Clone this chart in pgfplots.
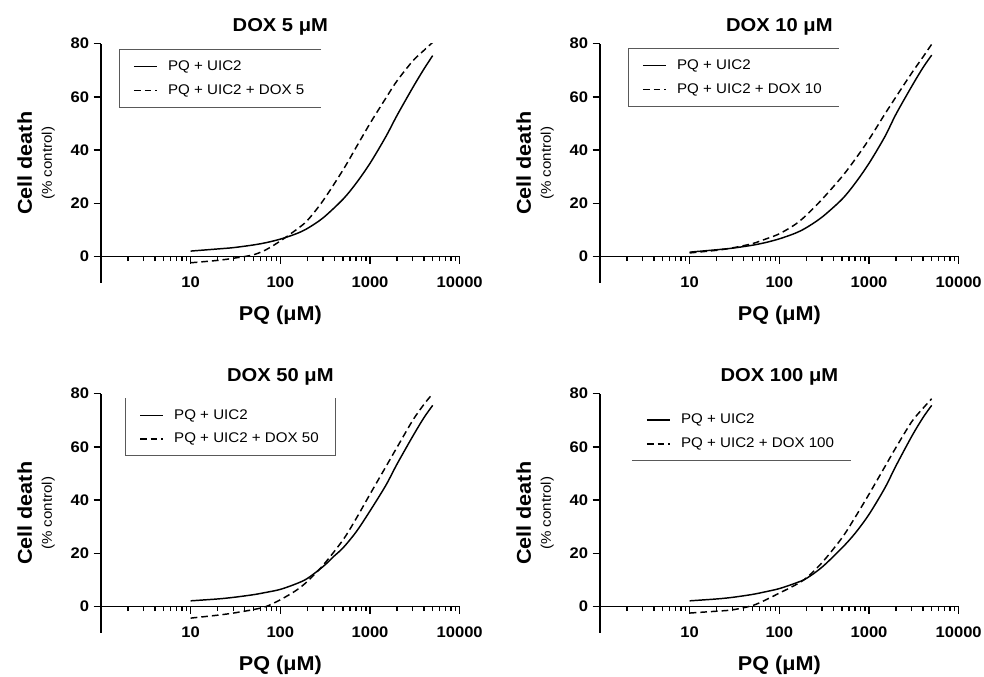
\documentclass[border=0pt]{standalone}
\usepackage{fontspec}
\setmainfont{Liberation Sans}[FakeStretch=1.08]
\usepackage{pgfplots}
\pgfplotsset{compat=1.18}

% shared settings for the four panels
\pgfplotsset{
  scale only axis, width=269pt, height=179.5pt,
  xmin=1, xmax=10000, ymin=-10, ymax=80,
  axis x line=middle, axis y line=left,
  axis line style={-, line width=1.2pt},
  tick align=outside,
  tick style={black, line width=1pt},
  major tick length=5.5pt, minor tick length=3.5pt,
  xtick={10,100,1000,10000}, xticklabels={10,100,1000,10000},
  minor xtick={2,3,4,5,6,7,8,9,20,30,40,50,60,70,80,90,200,300,400,500,600,700,800,900,2000,3000,4000,5000,6000,7000,8000,9000},
  ytick={0,20,40,60,80},
  /pgf/number format/assume math mode=true,
  ticklabel style={font=\bfseries\fontsize{11.5}{13}\selectfont},
  xticklabel style={anchor=center, yshift=-14pt},
  xlabel style={at={(axis description cs:0.5,0)}, anchor=center, yshift=-24pt, font=\bfseries\fontsize{15}{17}\selectfont},
  ylabel style={align=center},
  ylabel shift=5pt,
  title style={font=\bfseries\fontsize{14}{16}\selectfont, yshift=-3.5pt},
  legend cell align=left,
  legend style={draw=none, fill=none, font=\fontsize{10.5}{12}\selectfont,
    anchor=north west, inner xsep=10.5pt, inner ysep=6pt, row sep=5pt, column sep=6pt},
}
\tikzset{
  solidc/.style={black, line width=1.1pt, smooth},
  dashc/.style={black, line width=1.1pt, smooth, dash pattern=on 5pt off 3pt},
  legborder/.style={draw=black!65, line width=0.6pt},
}
\newcommand{\ylab}{{\bfseries\fontsize{15}{17}\selectfont Cell death}\\[3pt]{\fontsize{10.5}{12}\selectfont (\% control)}}

\begin{document}
\begin{tikzpicture}
\useasboundingbox (0,0) rectangle (738pt,507.75pt);

% DOX 5
\begin{axis}[xmode=log, at={(75.75pt,295.5pt)}, anchor=south west,
  title={DOX 5 μM}, xlabel={PQ (μM)}, ylabel={\ylab},
  legend style={at={(0.05,0.975)}, name=L1}]
\addplot[solidc] coordinates {(10,2.0) (20,2.8) (30,3.3) (50,4.3) (70,5.2) (100,6.5) (150,8.5) (200,10.5) (300,14.5) (500,21.5) (700,27.5) (1000,35) (1500,45) (2000,53) (3000,63.5) (4000,70.5) (5000,75.5)};
\addlegendentry{PQ + UIC2}
\addplot[dashc] coordinates {(10,-2.4) (20,-1.5) (30,-0.7) (50,0.6) (70,2.6) (100,5.8) (150,10.0) (200,13.5) (300,21.0) (500,32.5) (700,41) (1000,50) (1500,59.5) (2000,66) (3000,73.5) (4000,77.5) (5000,80.5)};
\addlegendentry{PQ + UIC2 + DOX 5}
\end{axis}
\draw[legborder] (L1.north east) -- (L1.north west) -- (L1.south west) -- (L1.south east);

% DOX 10
\begin{axis}[xmode=log, at={(450pt,295.5pt)}, anchor=south west,
  title={DOX 10 μM}, xlabel={PQ (μM)}, ylabel={\ylab},
  legend style={at={(0.078,0.979)}, name=L2}]
\addplot[solidc] coordinates {(10,1.6) (20,2.5) (30,3.1) (50,4.2) (70,5.2) (100,6.6) (150,8.7) (200,10.8) (300,14.8) (500,21.5) (700,27.5) (1000,35) (1500,45) (2000,53.5) (3000,64) (4000,71) (5000,75.7)};
\addlegendentry{PQ + UIC2}
\addplot[dashc] coordinates {(10,1.3) (20,2.3) (30,3.2) (50,4.8) (70,6.5) (100,8.5) (150,12) (200,15.5) (300,21.5) (500,30) (700,36.5) (1000,44) (1500,53.5) (2000,60) (3000,69) (4000,75) (5000,79.8)};
\addlegendentry{PQ + UIC2 + DOX 10}
\end{axis}
\draw[legborder] (L2.north east) -- (L2.north west) -- (L2.south west) -- (L2.south east);

% DOX 50
\begin{axis}[xmode=log, at={(75.75pt,33pt)}, anchor=south west,
  title={DOX 50 μM}, xlabel={PQ (μM)}, ylabel={\ylab},
  legend style={at={(0.067,0.98)}, name=L3}]
\addplot[solidc] coordinates {(10,2.1) (20,2.8) (30,3.4) (50,4.4) (70,5.3) (100,6.4) (150,8.5) (200,10.5) (300,15) (400,19) (500,22) (700,28) (1000,35.9) (1500,45.5) (2000,53.5) (3000,64) (4000,71) (5000,75.6)};
\addlegendentry{PQ + UIC2}
\addplot[dashc] coordinates {(10,-4.4) (20,-3.3) (30,-2.5) (50,-1.2) (70,0) (100,2.5) (150,6) (200,9.4) (300,15.5) (500,25) (700,33) (1000,42.2) (1500,52.5) (2000,59.8) (3000,70) (4000,76) (5000,80)};
\addlegendentry{PQ + UIC2 + DOX 50}
\end{axis}
\draw[legborder] (L3.north west) -- (L3.south west) -- (L3.south east) -- (L3.north east);

% DOX 100
\begin{axis}[xmode=log, at={(450pt,33pt)}, anchor=south west,
  title={DOX 100 μM}, xlabel={PQ (μM)}, ylabel={\ylab},
  legend style={at={(0.089,0.96)}, name=L4}]
\addplot[solidc] coordinates {(10,2.1) (20,2.8) (30,3.4) (50,4.5) (70,5.5) (100,6.7) (150,8.7) (200,10.5) (300,14.8) (500,22) (700,27.5) (1000,34.6) (1500,44.5) (2000,52.9) (3000,64) (4000,71) (5000,75.6)};
\addlegendentry{PQ + UIC2}
\addplot[dashc] coordinates {(10,-2.5) (20,-1.8) (30,-1.3) (50,0.3) (70,2.4) (100,5) (150,8) (200,10.7) (300,16.5) (500,25.8) (700,33.5) (1000,42.2) (1500,52.5) (2000,59.8) (3000,69.5) (4000,74.5) (5000,78.1)};
\addlegendentry{PQ + UIC2 + DOX 100}
\end{axis}
\draw[legborder] (L4.south west) -- (L4.south east);
\end{tikzpicture}
\end{document}
